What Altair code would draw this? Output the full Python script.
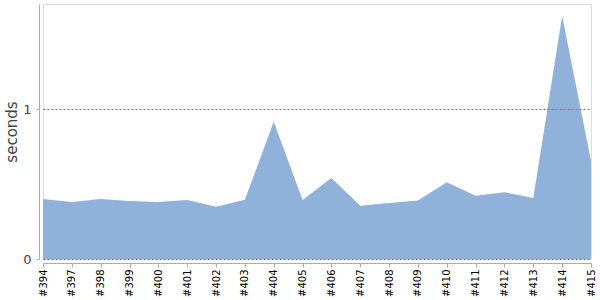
import altair as alt
import pandas as pd

builds = ["#394", "#397", "#398", "#399", "#400", "#401", "#402", "#403", "#404", "#405",
          "#406", "#407", "#408", "#409", "#410", "#411", "#412", "#413", "#414", "#415"]
seconds = [0.40, 0.38, 0.40, 0.387, 0.38, 0.393, 0.348, 0.395, 0.915, 0.393,
           0.54, 0.355, 0.373, 0.39, 0.512, 0.422, 0.445, 0.407, 1.62, 0.653]

df = pd.DataFrame({"build": builds, "seconds": seconds})

chart = alt.Chart(df).mark_area(color="#8FB1DA", opacity=1).encode(
    x=alt.X("build:O", sort=None, scale=alt.Scale(type="point", padding=0),
            axis=alt.Axis(title=None, labelAngle=270, labelFont="DejaVu Sans", labelFontSize=10,
                          labelColor="#000000", domainColor="#AAAAAA", tickColor="#AAAAAA",
                          tickSize=4, offset=4, labelPadding=2, grid=False)),
    y=alt.Y("seconds:Q", scale=alt.Scale(domain=[0, 1.7], nice=False),
            axis=alt.Axis(title="seconds", values=[0, 1], labelFont="DejaVu Sans", labelFontSize=13,
                          labelColor="#444444", titleFont="DejaVu Sans", titleFontSize=15,
                          titleFontWeight="normal", titleColor="#444444", titlePadding=3,
                          domainColor="#AAAAAA", tickColor="#AAAAAA", tickSize=3, offset=4,
                          labelPadding=5, grid=True, gridColor="#777777", gridDash=[2, 2],
                          gridWidth=1, zindex=1)),
).properties(
    width=548, height=255,
    autosize=alt.AutoSizeParams(type="none"),
    padding={"left": 43, "top": 4, "right": 9, "bottom": 41},
).configure_view(stroke=None).configure(background="white")

chart.save("out.html", embed_options={"renderer": "svg", "actions": False})
